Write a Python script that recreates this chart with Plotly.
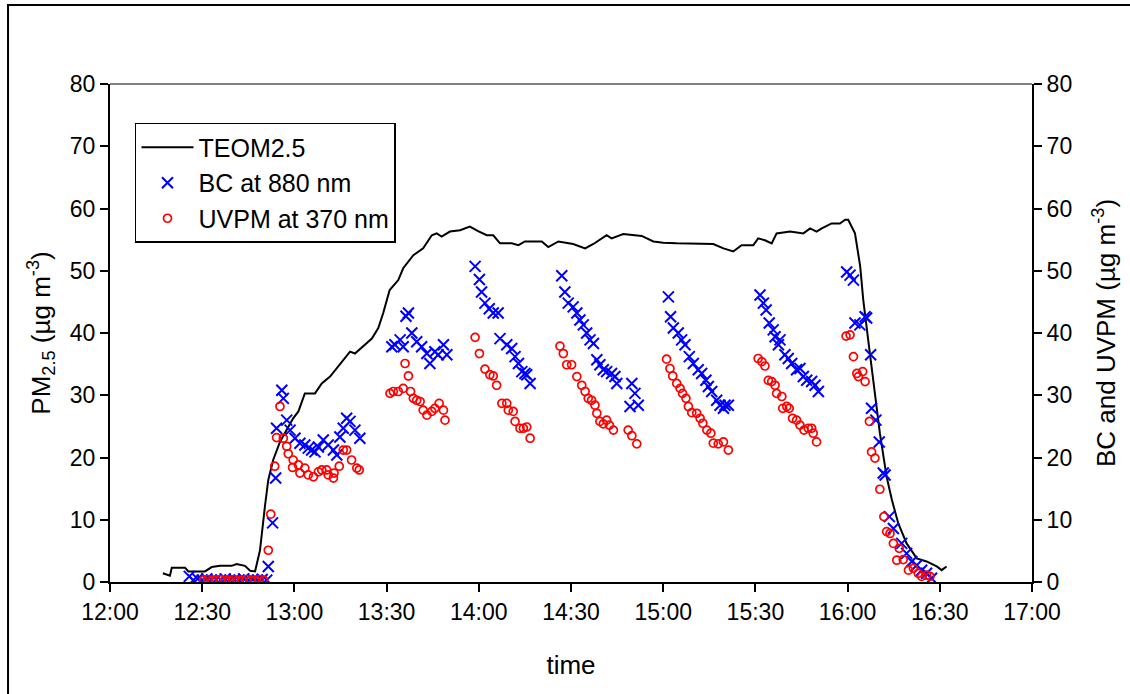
import pandas as pd
import plotly.graph_objects as go

# ---------------- data (times in minutes after 12:00) ----------------
teom_min = [17.2, 19.5, 20.1, 24.4, 25.5, 30.9, 33.1, 35.8, 39.6, 41.2, 43.9, 45.6, 47.2,
            48.8, 50.4, 51.5, 53.1, 55.3, 56.4, 59.6, 61.3, 63.4, 66.7, 68.9, 71.6, 74.8,
            78.1, 79.7, 83.0, 85.2, 87.3, 88.9, 91.0, 93.8, 95.4, 98.7, 101.9, 104.7, 106.3,
            107.9, 110.6, 113.9, 117.1, 119.6, 122.6, 124.7, 126.9, 130.7, 132.9, 135.0,
            140.5, 142.6, 145.9, 150.7, 154.6, 157.3, 161.6, 163.2, 167.0, 173.0, 176.8,
            180.0, 184.4, 189.8, 196.3, 199.6, 202.8, 205.5, 209.3, 210.9, 213.1, 215.3,
            216.9, 221.3, 225.6, 227.8, 229.9, 231.6, 234.8, 237.5, 239.2, 240.2, 242.4,
            244.1, 245.1, 246.7, 248.4, 250.5, 252.7, 254.4, 256.5, 259.2, 262.5, 265.7,
            269.0, 270.6, 272.2]
teom_val = [1.4, 1.0, 2.3, 2.3, 1.7, 1.7, 2.4, 2.6, 2.6, 2.9, 2.6, 1.8, 1.7,
            5.1, 12.1, 16.4, 19.6, 22.5, 23.5, 26.3, 27.4, 30.3, 30.3, 31.9, 33.0, 34.9,
            37.0, 36.7, 38.1, 39.1, 40.8, 43.2, 46.9, 48.5, 50.4, 52.5, 53.6, 55.7, 56.0,
            55.5, 56.3, 56.5, 57.1, 56.4, 55.7, 55.7, 54.4, 54.4, 54.1, 54.7,
            54.7, 53.8, 54.7, 54.3, 53.6, 54.3, 55.7, 55.2, 55.9, 55.6, 54.7,
            54.5, 54.4, 54.4, 54.3, 53.6, 53.1, 54.1, 54.1, 55.2, 54.9, 54.4,
            56.0, 56.3, 56.0, 56.8, 56.3, 56.8, 57.6, 57.6, 58.2, 58.2, 56.0,
            50.7, 45.3, 38.9, 31.9, 23.9, 16.9, 13.2, 9.4, 6.2, 3.8, 3.3,
            2.5, 1.9, 2.5]

bc_min = [25.8, 27.1, 28.5, 30.0, 31.5, 33.0, 34.5, 36.0, 37.5, 39.0, 40.5, 42.0, 43.5,
          45.0, 46.5, 48.0, 49.5, 51.0,
          51.5, 52.9, 53.9, 54.2, 55.9, 56.4, 57.5, 58.6, 60.2, 61.8, 63.4, 64.5, 65.6,
          66.7, 67.8, 69.4, 71.0, 72.7, 73.8, 74.8, 75.9, 77.0, 78.1, 79.7, 81.3,
          91.7, 92.7, 94.4, 95.4, 96.3, 97.1, 98.2, 99.8, 101.4, 103.1, 104.1, 105.7,
          106.8, 108.5, 109.6,
          118.8, 120.2, 120.9, 122.0, 123.4, 124.7, 126.3, 126.9, 129.1, 130.7, 131.8,
          132.9, 134.0, 135.0, 135.6, 136.7,
          147.0, 148.0, 149.1, 150.7, 151.9, 152.9, 154.0, 155.1, 156.2, 157.3, 158.4,
          159.4, 160.5, 161.6, 163.2, 164.3, 164.9, 169.8, 170.8, 169.2, 171.9,
          181.7, 182.4, 183.3, 184.9, 186.0, 187.1, 188.5, 189.8, 191.4, 192.5, 193.9,
          194.7, 195.8, 197.4, 198.5, 199.6, 200.1, 201.2,
          211.5, 212.6, 213.5, 214.5, 215.8, 216.4, 217.5, 218.0, 219.6, 220.7, 221.8,
          223.4, 224.5, 225.6, 226.7, 228.3, 229.4, 230.5,
          239.7, 240.8, 241.9, 242.4, 244.0, 245.7, 246.2, 247.5, 247.8, 249.2, 250.3,
          251.6, 252.2, 253.6, 254.9, 257.6, 259.2, 260.9, 262.5, 264.1, 265.7, 267.3]
bc_val = [0.9, 0.3, 0.5, 0.3, 0.5, 0.3, 0.4, 0.3, 0.5, 0.3, 0.4, 0.3, 0.5,
          0.3, 0.4, 0.3, 0.4, 0.3,
          2.5, 9.5, 16.7, 24.7, 30.8, 29.5, 26.0, 24.4, 23.1, 22.3, 22.0, 21.5, 21.2,
          20.9, 21.7, 22.8, 22.0, 21.2, 20.4, 23.3, 24.7, 26.3, 25.8, 24.4, 23.1,
          37.8, 38.1, 38.9, 37.8, 42.7, 43.2, 40.0, 38.6, 37.8, 36.7, 35.1, 37.0,
          36.5, 38.1, 36.5,
          50.7, 48.6, 46.6, 44.8, 43.9, 43.2, 43.2, 39.1, 38.1, 37.5, 36.2,
          35.1, 33.8, 33.5, 33.3, 31.9,
          49.2, 46.6, 44.8, 44.2, 43.2, 42.1, 41.3, 40.0, 38.9, 38.3, 35.7,
          34.9, 34.1, 33.8, 33.5, 33.0, 31.9, 31.9, 30.3, 28.2, 28.4,
          45.8, 42.6, 40.8, 40.0, 38.9, 38.1, 36.2, 35.1, 34.1, 33.5, 32.4,
          31.4, 30.6, 29.2, 28.4, 27.9, 28.4, 28.4,
          46.1, 44.8, 43.7, 41.6, 40.5, 39.4, 38.1, 38.9, 36.5, 35.9, 35.1,
          34.1, 34.3, 33.0, 32.4, 32.2, 31.6, 30.6,
          49.8, 49.3, 48.5, 41.6, 41.3, 42.6, 42.4, 36.5, 27.9, 26.0, 22.5,
          17.5, 17.2, 10.5, 8.6, 6.2, 4.6, 3.3, 2.7, 1.9, 1.4, 0.6]

uv_min = [30.4, 31.8, 33.2, 34.6, 36.0, 37.4, 38.8, 40.2, 41.6, 43.0, 44.4, 45.8, 47.2,
          48.6, 50.0,
          51.5, 52.3, 53.6, 54.2, 55.3, 56.4, 57.5, 58.0, 59.4, 59.6, 61.3, 61.8, 63.4,
          64.5, 66.2, 67.8, 68.9, 70.5, 71.0, 72.7, 72.9, 74.6, 75.9, 77.0, 78.6, 80.3, 81.1,
          91.1, 92.2, 93.8, 95.4, 96.0, 97.1, 97.8, 98.7, 99.8, 100.9, 101.9, 103.1,
          104.7, 105.7, 107.1, 108.5, 109.0,
          118.8, 120.2, 122.0, 123.6, 124.7, 125.8, 127.5, 129.1, 129.6, 131.2, 131.8,
          133.4, 134.5, 135.6, 136.7,
          146.4, 147.5, 148.6, 150.2, 151.9, 153.5, 154.6, 155.6, 156.7, 157.8, 158.4,
          159.4, 160.5, 161.6, 162.5, 163.8, 168.6, 169.8, 171.4,
          181.1, 182.2, 183.1, 184.4, 185.5, 186.3, 187.4, 188.2, 189.3, 190.9, 192.0,
          192.9, 194.2, 195.5, 196.3, 197.9, 199.6, 201.2,
          210.9, 212.1, 213.1, 214.2, 215.3, 216.4, 216.9, 218.6, 218.9, 220.2, 221.0,
          222.1, 223.4, 224.5, 225.8, 227.2, 228.3, 228.8, 229.9,
          239.5, 240.8, 241.9, 243.0, 243.5, 244.9, 245.7, 247.1, 247.8, 248.9, 250.5,
          251.8, 252.7, 253.8, 254.9, 256.8, 256.0, 258.1, 259.8, 261.4, 263.0, 264.1,
          265.7, 266.8]
uv_val = [0.3, 0.4, 0.3, 0.3, 0.4, 0.3, 0.3, 0.4, 0.3, 0.3, 0.4, 0.3, 0.3,
          0.4, 0.3,
          5.1, 10.9, 18.6, 23.2, 28.2, 23.1, 21.8, 20.6, 18.4, 19.6, 18.8, 17.5, 18.3,
          17.2, 16.9, 17.7, 18.0, 18.0, 17.2, 16.7, 17.5, 18.6, 21.2, 21.2, 19.6, 18.3, 18.0,
          30.3, 30.6, 30.6, 31.1, 35.1, 33.1, 30.6, 29.5, 29.2, 29.0, 27.6, 26.8,
          27.4, 27.9, 28.7, 27.6, 26.0,
          39.3, 36.7, 34.2, 33.3, 33.1, 31.6, 28.7, 28.7, 27.6, 27.4, 25.8,
          24.7, 24.7, 24.9, 23.1,
          37.9, 36.7, 34.9, 34.9, 33.0, 31.6, 30.6, 29.5, 29.2, 28.4, 27.1,
          25.8, 25.4, 26.0, 25.2, 24.4, 24.4, 23.5, 22.2,
          35.8, 34.3, 33.1, 31.9, 31.1, 30.3, 29.5, 28.2, 27.2, 27.1, 26.3,
          25.5, 24.4, 23.9, 22.3, 22.2, 22.5, 21.2,
          35.9, 35.4, 34.7, 32.4, 32.2, 31.6, 30.3, 29.8, 27.9, 28.2, 27.9,
          26.3, 26.0, 25.2, 24.4, 24.7, 24.7, 23.9, 22.5,
          39.5, 39.7, 36.2, 33.5, 33.0, 33.8, 32.2, 25.8, 20.9, 19.9, 14.9,
          10.5, 8.1, 7.8, 6.2, 5.4, 3.5, 3.6, 1.9, 2.2, 1.4, 0.9,
          1.1, 0.9]

x_start, x_end = "2000-01-01 12:00", "2000-01-01 17:00"
y_ticks = [0, 10, 20, 30, 40, 50, 60, 70, 80]

base = pd.Timestamp(x_start)


def to_time(mins):
    return base + pd.to_timedelta(mins, unit="min")


FONT = "Liberation Sans, Arial, sans-serif"
FS = 23      # tick labels
FT = 26      # titles
FL = 25      # legend

fig = go.Figure()
fig.add_trace(go.Scatter(
    x=to_time(teom_min), y=teom_val, mode="lines", name="TEOM2.5",
    line=dict(color="black", width=2)))
fig.add_trace(go.Scatter(
    x=to_time(bc_min), y=bc_val, mode="markers", name="BC at 880 nm", yaxis="y2",
    marker=dict(symbol="x-thin", size=11, color="#0000FF",
                line=dict(color="#0000FF", width=2))))
fig.add_trace(go.Scatter(
    x=to_time(uv_min), y=uv_val, mode="markers", name="UVPM at 370 nm", yaxis="y2",
    marker=dict(symbol="circle-open", size=8, color="#FF0000",
                line=dict(color="#FF0000", width=1.7))))

axis_common = dict(
    range=[0, 80], tickvals=y_ticks, showgrid=False, zeroline=False,
    showline=True, linecolor="black", linewidth=2,
    ticks="outside", ticklen=8, tickwidth=2, tickcolor="black",
    tickfont=dict(family=FONT, size=FS, color="black"))

fig.update_layout(
    width=1130, height=694,
    paper_bgcolor="white", plot_bgcolor="white",
    margin=dict(l=110, r=98, t=84, b=112),
    font=dict(family=FONT, size=FS, color="black"),
    showlegend=True,
    legend=dict(x=0.0271, y=0.9217, xanchor="left", yanchor="top",
                bgcolor="white", bordercolor="black", borderwidth=1.5,
                font=dict(family=FONT, size=FL, color="black"),
                itemwidth=52, tracegroupgap=0),
    xaxis=dict(type="date", range=[x_start, x_end], tickformat="%H:%M",
               dtick=30 * 60 * 1000, tick0=x_start,
               showgrid=False, zeroline=False, showline=True, linecolor="black",
               linewidth=2, ticks="outside", ticklen=8, tickwidth=2, tickcolor="black",
               tickfont=dict(family=FONT, size=FS, color="black"),
               title=dict(text="time", font=dict(family=FONT, size=FT), standoff=32)),
    yaxis=dict(**axis_common,
               title=dict(text="PM<sub>2.5</sub> (µg m<sup>-3</sup>)",
                          font=dict(family=FONT, size=FT), standoff=12)),
    yaxis2=dict(**axis_common, overlaying="y", side="right",
                title=dict(text="BC and UVPM (µg m<sup>-3</sup>)",
                           font=dict(family=FONT, size=FT), standoff=26)),
    shapes=[
        dict(type="line", xref="paper", yref="paper", x0=0, x1=1, y0=1, y1=1,
             line=dict(color="#808080", width=2)),
        dict(type="rect", xref="paper", yref="paper", x0=-0.1106, x1=1.2,
             y0=-0.4, y1=1.1586, line=dict(color="black", width=2),
             fillcolor="rgba(0,0,0,0)", layer="below"),
    ],
)

fig.write_html("out.html",
               config={"displayModeBar": False},
               post_script="document.body.style.margin='0';"
                           "document.body.style.overflow='hidden';"
                           "window.dispatchEvent(new Event('resize'));")
